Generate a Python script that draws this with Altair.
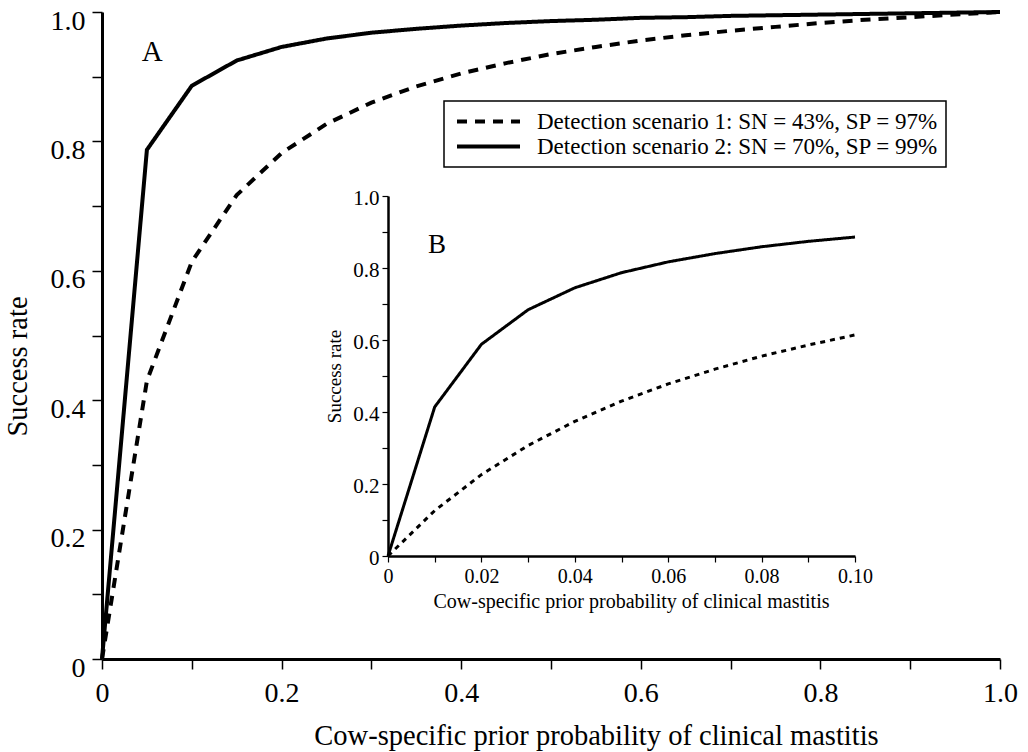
import altair as alt
import pandas as pd

FONT = "Liberation Serif"

SCENARIOS = ["Detection scenario 1: SN = 43%, SP = 97%",
             "Detection scenario 2: SN = 70%, SP = 99%"]

# Main panel (A)
PRIOR_MAIN = [0.0, 0.05, 0.10, 0.15, 0.20, 0.25, 0.30, 0.35, 0.40, 0.45, 0.50,
              0.55, 0.60, 0.65, 0.70, 0.75, 0.80, 0.85, 0.90, 0.95, 1.0]
S1_MAIN = [0.0, 0.430, 0.614, 0.717, 0.782, 0.827, 0.860, 0.885, 0.905, 0.921, 0.935,
           0.946, 0.956, 0.964, 0.971, 0.977, 0.983, 0.988, 0.992, 0.996, 1.0]
S2_MAIN = [0.0, 0.787, 0.886, 0.925, 0.946, 0.959, 0.968, 0.974, 0.979, 0.983, 0.986,
           0.988, 0.991, 0.992, 0.994, 0.995, 0.996, 0.997, 0.998, 0.999, 1.0]

# Inset panel (B)
PRIOR_INSET = [0.0, 0.01, 0.02, 0.03, 0.04, 0.05, 0.06, 0.07, 0.08, 0.09, 0.10]
S1_INSET = [0.0, 0.126, 0.226, 0.307, 0.374, 0.430, 0.478, 0.519, 0.555, 0.586, 0.614]
S2_INSET = [0.0, 0.414, 0.588, 0.684, 0.745, 0.787, 0.817, 0.840, 0.859, 0.874, 0.886]

MAIN_TICKS = [0.0, 0.1, 0.2, 0.3, 0.4, 0.5, 0.6, 0.7, 0.8, 0.9, 1.0]
INSET_X_TICKS = [0.0, 0.01, 0.02, 0.03, 0.04, 0.05, 0.06, 0.07, 0.08, 0.09, 0.10]
PANEL_LABELS = ["A", "B"]
PANEL_A_POS = (0.056, 0.938)
PANEL_B_POS = (0.0105, 0.864)

X_TITLE = "Cow-specific prior probability of clinical mastitis"
Y_TITLE = "Success rate"


def long_df(xs, s1, s2):
    rows = []
    for name, ys in zip(SCENARIOS, [s1, s2]):
        for x, y in zip(xs, ys):
            rows.append({"prior": x, "rate": y, "scenario": name})
    return pd.DataFrame(rows)


main_df = long_df(PRIOR_MAIN, S1_MAIN, S2_MAIN)
inset_df = long_df(PRIOR_INSET, S1_INSET, S2_INSET)

W, H = 898, 647

main_label_expr = ("round(datum.value*10) % 2 == 0 ? "
                   "(datum.value == 0 ? '0' : format(datum.value, '.1f')) : ''")
inset_x_label_expr = ("round(datum.value*100) % 2 == 0 ? "
                      "(datum.value == 0 ? '0' : format(datum.value, '.2f')) : ''")

main_lines = alt.Chart(main_df).mark_line(color="black", strokeWidth=4).encode(
    x=alt.X("prior:Q", scale=alt.Scale(domain=[0, 1]),
            axis=alt.Axis(values=MAIN_TICKS, labelExpr=main_label_expr, title=X_TITLE,
                          orient="bottom", domainWidth=3, tickWidth=1.5, tickSize=10,
                          labelFontSize=28, titleFontSize=28.5, labelPadding=10,
                          titlePadding=14, titleX=494, labelFlush=False, labelOverlap=False,
                          labelColor="black", titleColor="black", titleFontWeight="normal")),
    y=alt.Y("rate:Q", scale=alt.Scale(domain=[0, 1]),
            axis=alt.Axis(values=MAIN_TICKS, labelExpr=main_label_expr, title=Y_TITLE,
                          orient="left", domainWidth=3, tickWidth=1.5, tickSize=10,
                          labelFontSize=28, titleFontSize=28.5, labelPadding=7,
                          labelOffset=9, titlePadding=18, titleY=354,
                          labelFlush=False, labelOverlap=False,
                          labelColor="black", titleColor="black", titleFontWeight="normal")),
    strokeDash=alt.StrokeDash(
        "scenario:N",
        scale=alt.Scale(domain=SCENARIOS, range=[[10, 8], [1, 0]]),
        legend=alt.Legend(orient="none", legendX=342, legendY=89, title=None,
                          strokeColor="black", fillColor="white", padding=8,
                          labelFont=FONT, labelFontSize=23, labelColor="black",
                          symbolType="stroke", symbolSize=3969, symbolStrokeWidth=4,
                          symbolStrokeColor="black", labelLimit=700, labelOffset=15,
                          clipHeight=25, rowPadding=0, symbolOffset=3)),
)

text_a = alt.Chart(pd.DataFrame({"x": [PANEL_A_POS[0]], "y": [PANEL_A_POS[1]],
                                 "t": [PANEL_LABELS[0]]})).mark_text(
    font=FONT, fontSize=29, color="black", align="center", baseline="middle"
).encode(x="x:Q", y="y:Q", text="t:N")

main = alt.layer(main_lines, text_a)

inset_x_scale = alt.Scale(domain=[0, 0.1], range=[286, 753])
inset_y_scale = alt.Scale(domain=[0, 1], range=[544, 184])

inset_lines = alt.Chart(inset_df).mark_line(color="black", strokeWidth=3).encode(
    x=alt.X("prior:Q", scale=inset_x_scale,
            axis=alt.Axis(values=INSET_X_TICKS, labelExpr=inset_x_label_expr, title=X_TITLE,
                          orient="bottom", offset=-103, domainWidth=2.5, tickWidth=1.2,
                          tickSize=6, labelFontSize=20, titleFontSize=20, labelPadding=4,
                          titleX=529, titleY=35, titleBaseline="top",
                          labelFlush=False, labelOverlap=False,
                          labelColor="black", titleColor="black", titleFontWeight="normal")),
    y=alt.Y("rate:Q", scale=inset_y_scale,
            axis=alt.Axis(values=MAIN_TICKS, labelExpr=main_label_expr, title=Y_TITLE,
                          orient="left", offset=-286, domainWidth=2.5, tickWidth=1.2,
                          tickSize=6, labelFontSize=21, titleFontSize=19, labelPadding=3,
                          labelOffset=2, titlePadding=8, labelFlush=False, labelOverlap=False,
                          labelColor="black", titleColor="black", titleFontWeight="normal")),
    strokeDash=alt.StrokeDash(
        "scenario:N",
        scale=alt.Scale(domain=SCENARIOS, range=[[5, 5], [1, 0]]),
        legend=None),
)

text_b = alt.Chart(pd.DataFrame({"x": [PANEL_B_POS[0]], "y": [PANEL_B_POS[1]],
                                 "t": [PANEL_LABELS[1]]})).mark_text(
    font=FONT, fontSize=27, color="black", align="center", baseline="middle"
).encode(x=alt.X("x:Q", scale=inset_x_scale), y=alt.Y("y:Q", scale=inset_y_scale), text="t:N")

inset = alt.layer(inset_lines, text_b)

chart = alt.layer(main, inset).resolve_scale(
    x="independent", y="independent", strokeDash="independent"
).resolve_axis(x="independent", y="independent").properties(
    width=W, height=H,
    autosize=alt.AutoSizeParams(type="none"),
    padding={"left": 102, "top": 12, "right": 28, "bottom": 93},
).configure_view(strokeWidth=0).configure_axis(
    grid=False, domainColor="black", tickColor="black", labelFont=FONT, titleFont=FONT
).configure_legend(strokeWidth=1.5)

chart.save("out.html", embed_options={"renderer": "svg", "actions": False})
